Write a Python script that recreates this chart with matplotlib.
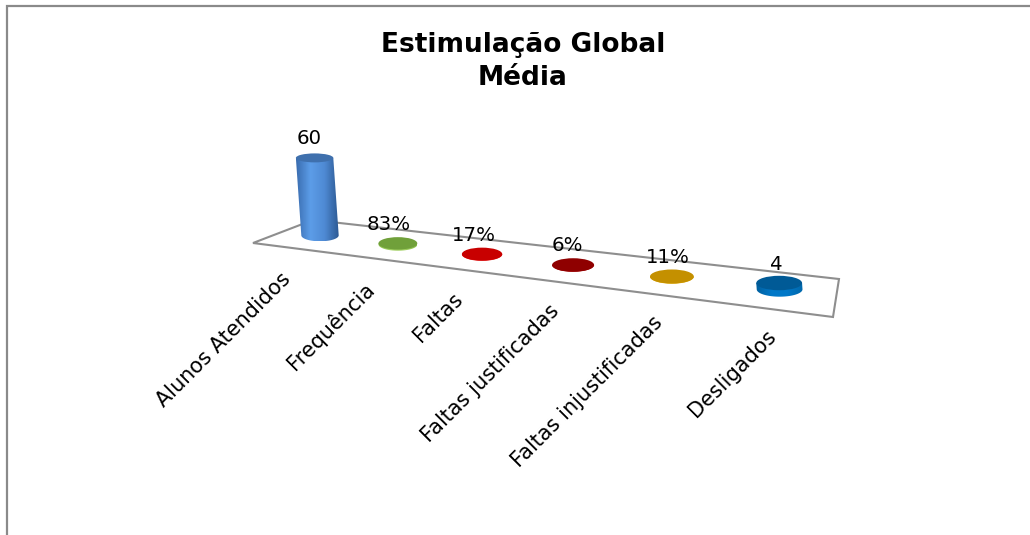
import matplotlib
matplotlib.use('Agg')
import matplotlib.pyplot as plt
import numpy as np
from matplotlib.colors import LinearSegmentedColormap
from matplotlib.patches import Ellipse, Polygon

categories = ['Alunos Atendidos', 'Frequência', 'Faltas', 'Faltas justificadas',
              'Faltas injustificadas', 'Desligados']
values = [60, 0.83, 0.17, 0.06, 0.11, 4]
value_labels = ['60', '83%', '17%', '6%', '11%', '4']
top_colors = ['#3f70ad', '#70a03a', '#c80000', '#8f0000', '#c49000', '#005a96']
side_colors = [
    ['#3a6db0', '#5c9de8', '#4f8ad4', '#2d5a94'],
    ['#8cc04c', '#a0d060', '#a0d060', '#8cc04c'],
    ['#e01010', '#f02020', '#f02020', '#e01010'],
    ['#a00000', '#b00000', '#b00000', '#a00000'],
    ['#d8a000', '#e8b000', '#e8b000', '#d8a000'],
    ['#00609f', '#0078c8', '#0078c8', '#0068ac'],
]

# floor plate outline, in canvas pixels
floor_x = [253, 313, 839, 833]
floor_y = [243, 220, 279, 317]

# simple perspective for the row of cylinders
K = 0.0366
STEP_X = 75.1
STEP_Y = 8.83
HEIGHT_SCALE = 1.29
LEAN = 0.07


def project(i, value=0):
    depth = 1 / (1 - K * i)
    h = value * HEIGHT_SCALE * depth
    x = 320 + STEP_X * i * depth - LEAN * h
    y = 235.3 + STEP_Y * i * depth - h
    return x, y, depth


fig = plt.figure(figsize=(10.3, 5.35), dpi=100)
ax = fig.add_axes([0, 0, 1, 1])
ax.set_axis_off()

# frame of the chart, only top and left are visible
ax.plot([1030, 6.5, 6.5], [5.5, 5.5, 535], color='#8a8a8a', lw=1.6, solid_joinstyle='miter')

ax.add_patch(Polygon(np.column_stack([floor_x, floor_y]), closed=True, fc='white',
                     ec='#8e8e8e', lw=1.5, zorder=1))

for i, (val, label) in enumerate(zip(values, value_labels)):
    bx, by, depth = project(i)
    tx, ty, _ = project(i, val)
    rx = 18.7 * depth
    ry = 6.0 * depth
    # ellipses flatten towards the eye level
    ry_top = ry * (1 - 0.0042 * val)

    # side of the cylinder with a horizontal gradient
    angles = np.linspace(0, np.pi, 40)
    arc = np.column_stack([bx + rx * np.cos(angles), by + ry * np.sin(angles)])
    outline = np.vstack([[[tx + rx, ty]], arc, [[tx - rx, ty]]])
    side = Polygon(outline, closed=True, fc='none', ec='none', zorder=2 + i)
    ax.add_patch(side)
    cmap = LinearSegmentedColormap.from_list('side', side_colors[i])
    left = min(bx, tx) - rx
    right = max(bx, tx) + rx
    img = ax.imshow(np.linspace(0, 1, 64).reshape(1, -1), cmap=cmap, aspect='auto',
                    extent=[left, right, by + ry, ty], zorder=2 + i)
    img.set_clip_path(side)

    ax.add_patch(Ellipse((tx, ty), 2 * rx, 2 * ry_top, fc=top_colors[i], ec='none', zorder=2 + i))

    ax.text(bx - 11 + 1.6 * i, ty - 19, label, ha='center', va='center', fontsize=14.2,
            color='black', zorder=10)

    ax.text(bx - 40 + 5.2 * i, by + 33.5 + 0.6 * i, categories[i], rotation=45,
            rotation_mode='anchor', ha='right', va='top', fontsize=15, color='black')

ax.text(523, 52, 'Estimulação Global', ha='center', va='baseline', fontsize=19,
        fontweight='bold', color='black')
ax.text(523, 85, 'Média', ha='center', va='baseline', fontsize=19,
        fontweight='bold', color='black')

ax.set_xlim(0, 1030)
ax.set_ylim(535, 0)
fig.savefig('out.png', dpi=100)
